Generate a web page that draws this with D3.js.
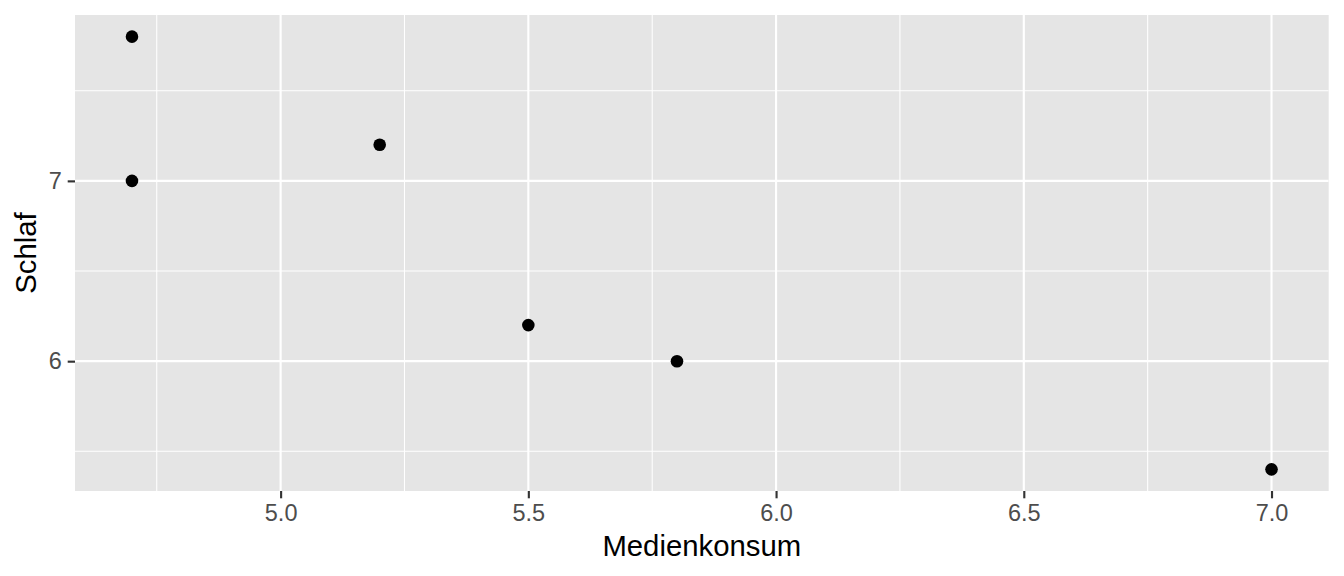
<!DOCTYPE html>
<html><head><meta charset="utf-8">
<script src="https://cdn.jsdelivr.net/npm/d3@7"></script>
<style>body{margin:0;background:#fff}svg{display:block}</style>
</head><body>
<svg id="c" width="1344" height="576"></svg>
<script>
const medienkonsum = [4.7, 4.7, 5.2, 5.5, 5.8, 7.0];
const schlaf = [7.8, 7.0, 7.2, 6.2, 6.0, 5.4];
const xTicks = [5.0, 5.5, 6.0, 6.5, 7.0];
const xMinor = [4.75, 5.25, 5.75, 6.25, 6.75];
const yTicks = [6, 7];
const yMinor = [5.5, 6.5, 7.5];
const xLabel = "Medienkonsum";
const yLabel = "Schlaf";

const svg = d3.select("#c");
const L = 75, R = 1328.5, T = 15, B = 491;
const xr = d3.extent(medienkonsum), yr = d3.extent(schlaf);
const xe = (xr[1]-xr[0])*0.05, ye = (yr[1]-yr[0])*0.05;
const x = d3.scaleLinear().domain([xr[0]-xe, xr[1]+xe]).range([L, R]);
const y = d3.scaleLinear().domain([yr[0]-ye, yr[1]+ye]).range([B, T]);
const font = "'Liberation Sans', Arial, Helvetica, sans-serif";

svg.append("rect").attr("x", L).attr("y", T).attr("width", R-L).attr("height", B-T).attr("fill", "#EBEBEB");
svg.append("rect").attr("x", L).attr("y", T).attr("width", R-L).attr("height", B-T).attr("fill", "#E5E5E5");

const g = svg.append("g");
g.selectAll(".xm").data(xMinor).join("line").attr("x1", d=>x(d)).attr("x2", d=>x(d)).attr("y1", T).attr("y2", B).attr("stroke", "#fff").attr("stroke-width", 1.07);
g.selectAll(".ym").data(yMinor).join("line").attr("y1", d=>y(d)).attr("y2", d=>y(d)).attr("x1", L).attr("x2", R).attr("stroke", "#fff").attr("stroke-width", 1.07);
g.selectAll(".xM").data(xTicks).join("line").attr("x1", d=>x(d)).attr("x2", d=>x(d)).attr("y1", T).attr("y2", B).attr("stroke", "#fff").attr("stroke-width", 2.13);
g.selectAll(".yM").data(yTicks).join("line").attr("y1", d=>y(d)).attr("y2", d=>y(d)).attr("x1", L).attr("x2", R).attr("stroke", "#fff").attr("stroke-width", 2.13);

// axes
const xAxis = d3.axisBottom(x).tickValues(xTicks).tickFormat(d3.format(".1f")).tickSizeInner(7.3).tickSizeOuter(0).tickPadding(5.9);
const ax = svg.append("g").attr("transform", `translate(0,${B})`).call(xAxis);
ax.select(".domain").remove();
ax.selectAll(".tick line").attr("stroke", "#333").attr("stroke-width", 2.13);
ax.selectAll(".tick text").attr("fill", "#4D4D4D").style("font-family", font).style("font-size", "23.5px");

const yAxis = d3.axisLeft(y).tickValues(yTicks).tickFormat(d3.format("d")).tickSizeInner(7.3).tickSizeOuter(0).tickPadding(5.9);
const ay = svg.append("g").attr("transform", `translate(${L},0)`).call(yAxis);
ay.select(".domain").remove();
ay.selectAll(".tick line").attr("stroke", "#333").attr("stroke-width", 2.13);
ay.selectAll(".tick text").attr("fill", "#4D4D4D").style("font-family", font).style("font-size", "23.5px");

svg.selectAll(".pt").data(medienkonsum).join("circle")
  .attr("cx", d=>x(d)).attr("cy", (d,i)=>y(schlaf[i])).attr("r", 6.3).attr("fill", "#000");

svg.append("text").attr("x", (L+R)/2).attr("y", 556).attr("text-anchor", "middle")
  .style("font-family", font).style("font-size", "29.3px").attr("fill", "#000").text(xLabel);
svg.append("text").attr("transform", `translate(36,${(T+B)/2}) rotate(-90)`).attr("text-anchor", "middle")
  .style("font-family", font).style("font-size", "29.3px").attr("fill", "#000").text(yLabel);
</script>
</body></html>
